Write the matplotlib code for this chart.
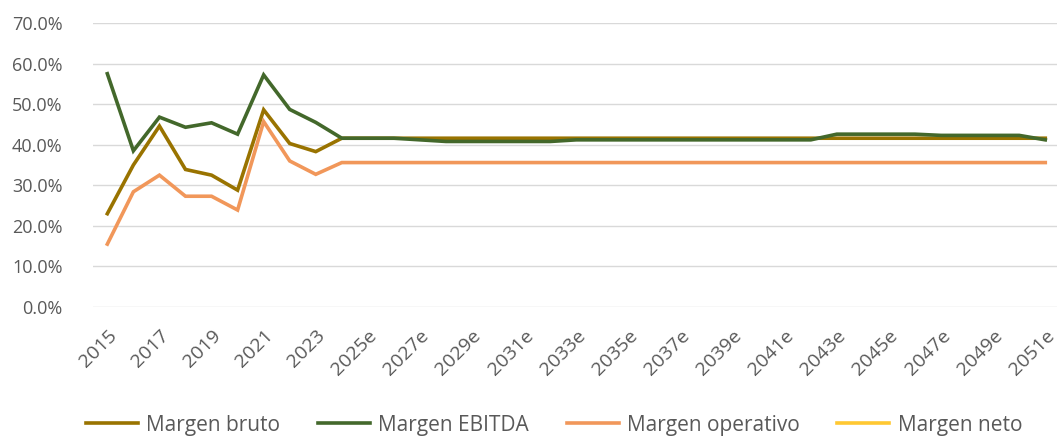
import matplotlib
matplotlib.use('Agg')

import matplotlib.pyplot as plt
import matplotlib.transforms as mtransforms
import numpy as np
from matplotlib.ticker import PercentFormatter

# years 2015 .. 2051e
years = [str(y) for y in range(2015, 2025)] + [str(y) + 'e' for y in range(2025, 2052)]

# margins in %
margen_bruto = [23.0, 35.0, 44.6, 33.9, 32.5, 28.8, 48.6, 40.3, 38.3, 41.6] + [41.6] * 27
margen_ebitda = [57.5, 38.5, 46.8, 44.3, 45.4, 42.6, 57.2, 48.7, 45.5, 41.6,
                 41.6, 41.6, 41.2, 40.8, 40.8, 40.8, 40.8, 40.8, 41.2, 41.2,
                 41.2, 41.2, 41.2, 41.2, 41.2, 41.2, 41.2, 41.2, 42.6, 42.6,
                 42.6, 42.6, 42.3, 42.3, 42.3, 42.3, 41.2]
margen_operativo = [15.5, 28.4, 32.5, 27.3, 27.3, 23.9, 45.7, 36.0, 32.7, 35.6] + [35.6] * 27
margen_neto = [np.nan] * 37  # no values shown in the chart

series_names = ['Margen bruto', 'Margen EBITDA', 'Margen operativo', 'Margen neto']
series_colors = ['#997300', '#43682B', '#F1975A', '#FFC832']

plt.rcParams['font.family'] = ['Open Sans', 'DejaVu Sans']

fig = plt.figure(figsize=(10.57, 4.37), dpi=100)
ax = fig.add_axes([93 / 1057, 1 - 307 / 437, (1057 - 93) / 1057, (307 - 23) / 437])

x = np.arange(len(years))
for vals, name, col in zip([margen_bruto, margen_ebitda, margen_operativo, margen_neto],
                           series_names, series_colors):
    ax.plot(x, vals, color=col, lw=2.6, label=name, solid_joinstyle='miter')

ax.set_ylim(0, 70)
ax.set_yticks(np.arange(0, 71, 10))
ax.yaxis.set_major_formatter(PercentFormatter(decimals=1))
ax.set_xlim(-0.55, 36.45)
ax.set_xticks(x[::2])
ax.set_xticklabels(years[::2], rotation=45, ha='right', rotation_mode='anchor')

# nudge rotated labels a bit left so the last one stays inside the figure
shift = mtransforms.ScaledTranslation(-6 / 100, 0, fig.dpi_scale_trans)
for lbl in ax.get_xticklabels():
    lbl.set_transform(lbl.get_transform() + shift)

ax.grid(axis='y', color='#D9D9D9', lw=1)
ax.set_axisbelow(True)
for s in ax.spines.values():
    s.set_visible(False)
ax.tick_params(axis='both', length=0, colors='#595959')
ax.tick_params(axis='y', pad=22, labelsize=13)
ax.tick_params(axis='x', pad=14, labelsize=14)

ax.legend(loc='center', bbox_to_anchor=(0.5 - 23 / 1057, (307 - 425) / (307 - 23)),
          ncol=4, frameon=False, fontsize=15, labelcolor='#595959',
          handlelength=2.5, columnspacing=1.8, handletextpad=0.4)

plt.savefig('out.png', dpi=100)
